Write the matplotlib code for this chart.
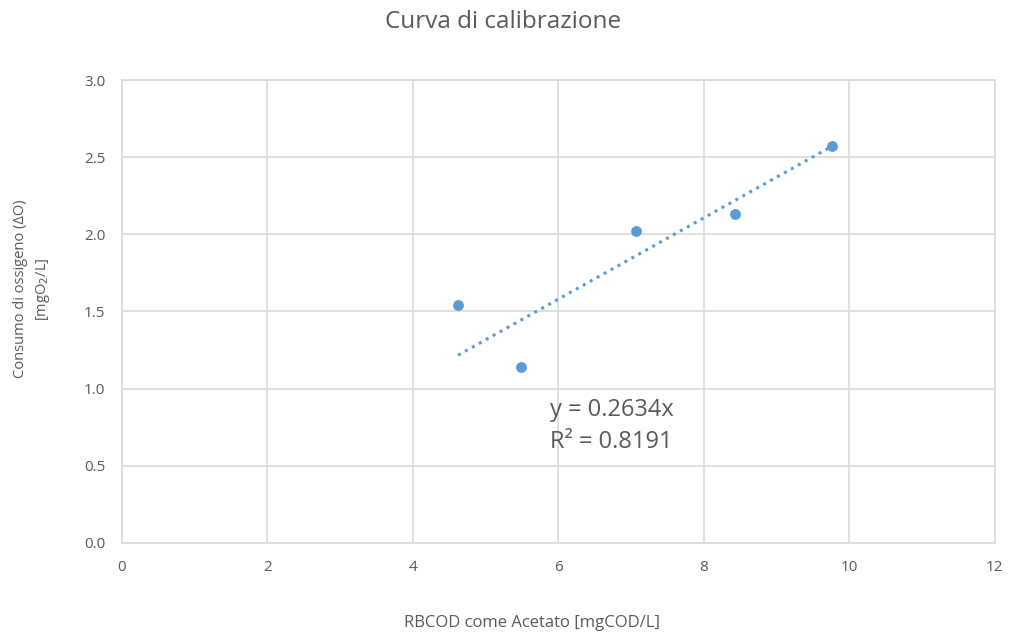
import numpy as np
import matplotlib.pyplot as plt

# Dati di calibrazione
rbcod = [4.62, 5.48, 7.07, 8.43, 9.76]
consumo_o2 = [1.54, 1.14, 2.02, 2.13, 2.57]
pendenza = 0.2634
r2 = 0.8191

x_ticks = [0, 2, 4, 6, 8, 10, 12]
y_ticks = [0.0, 0.5, 1.0, 1.5, 2.0, 2.5, 3.0]

grigio = '#595959'
blu = '#5b9bd5'
plt.rcParams['font.family'] = ['Open Sans', 'DejaVu Sans']

fig = plt.figure(figsize=(10.09, 6.35), dpi=100)
ax = fig.add_axes([0.1209, 0.1449, 0.8651, 0.7291])

ax.scatter(rbcod, consumo_o2, s=46, color=blu, zorder=3)

# linea di tendenza passante per l'origine
xt = np.array([min(rbcod), max(rbcod)])
ax.plot(xt, pendenza * xt, linestyle=(0, (1, 1.6)), color=blu, linewidth=2.2, zorder=2)

ax.set_xlim(0, 12)
ax.set_ylim(0, 3)
ax.set_xticks(x_ticks)
ax.set_yticks(y_ticks)
ax.set_yticklabels([f'{v:.1f}' for v in y_ticks])
ax.tick_params(length=0, colors=grigio, labelsize=11, pad=12)
ax.grid(color='#d9d9d9', linewidth=1.2)
ax.set_axisbelow(True)
for s in ax.spines.values():
    s.set_color('#d9d9d9')
    s.set_linewidth(1.2)

ax.text(5.88, 0.76, f'y = {pendenza}x\nR² = {r2}', fontsize=17, color=grigio,
        linespacing=1.45, va='center')

fig.text(0.4985, 0.965, 'Curva di calibrazione', ha='center', va='center',
         fontsize=17.5, color=grigio)
fig.text(0.527, 0.019, 'RBCOD come Acetato [mgCOD/L]', ha='center', va='center',
         fontsize=12, color=grigio)
fig.text(0.02, 0.545, 'Consumo di ossigeno (ΔO)', rotation=90, ha='center',
         va='center', fontsize=10.5, color=grigio)
fig.text(0.043, 0.545, '[mgO$_2$/L]', rotation=90, ha='center',
         va='center', fontsize=10.5, color=grigio)

fig.savefig('out.png', dpi=100)
